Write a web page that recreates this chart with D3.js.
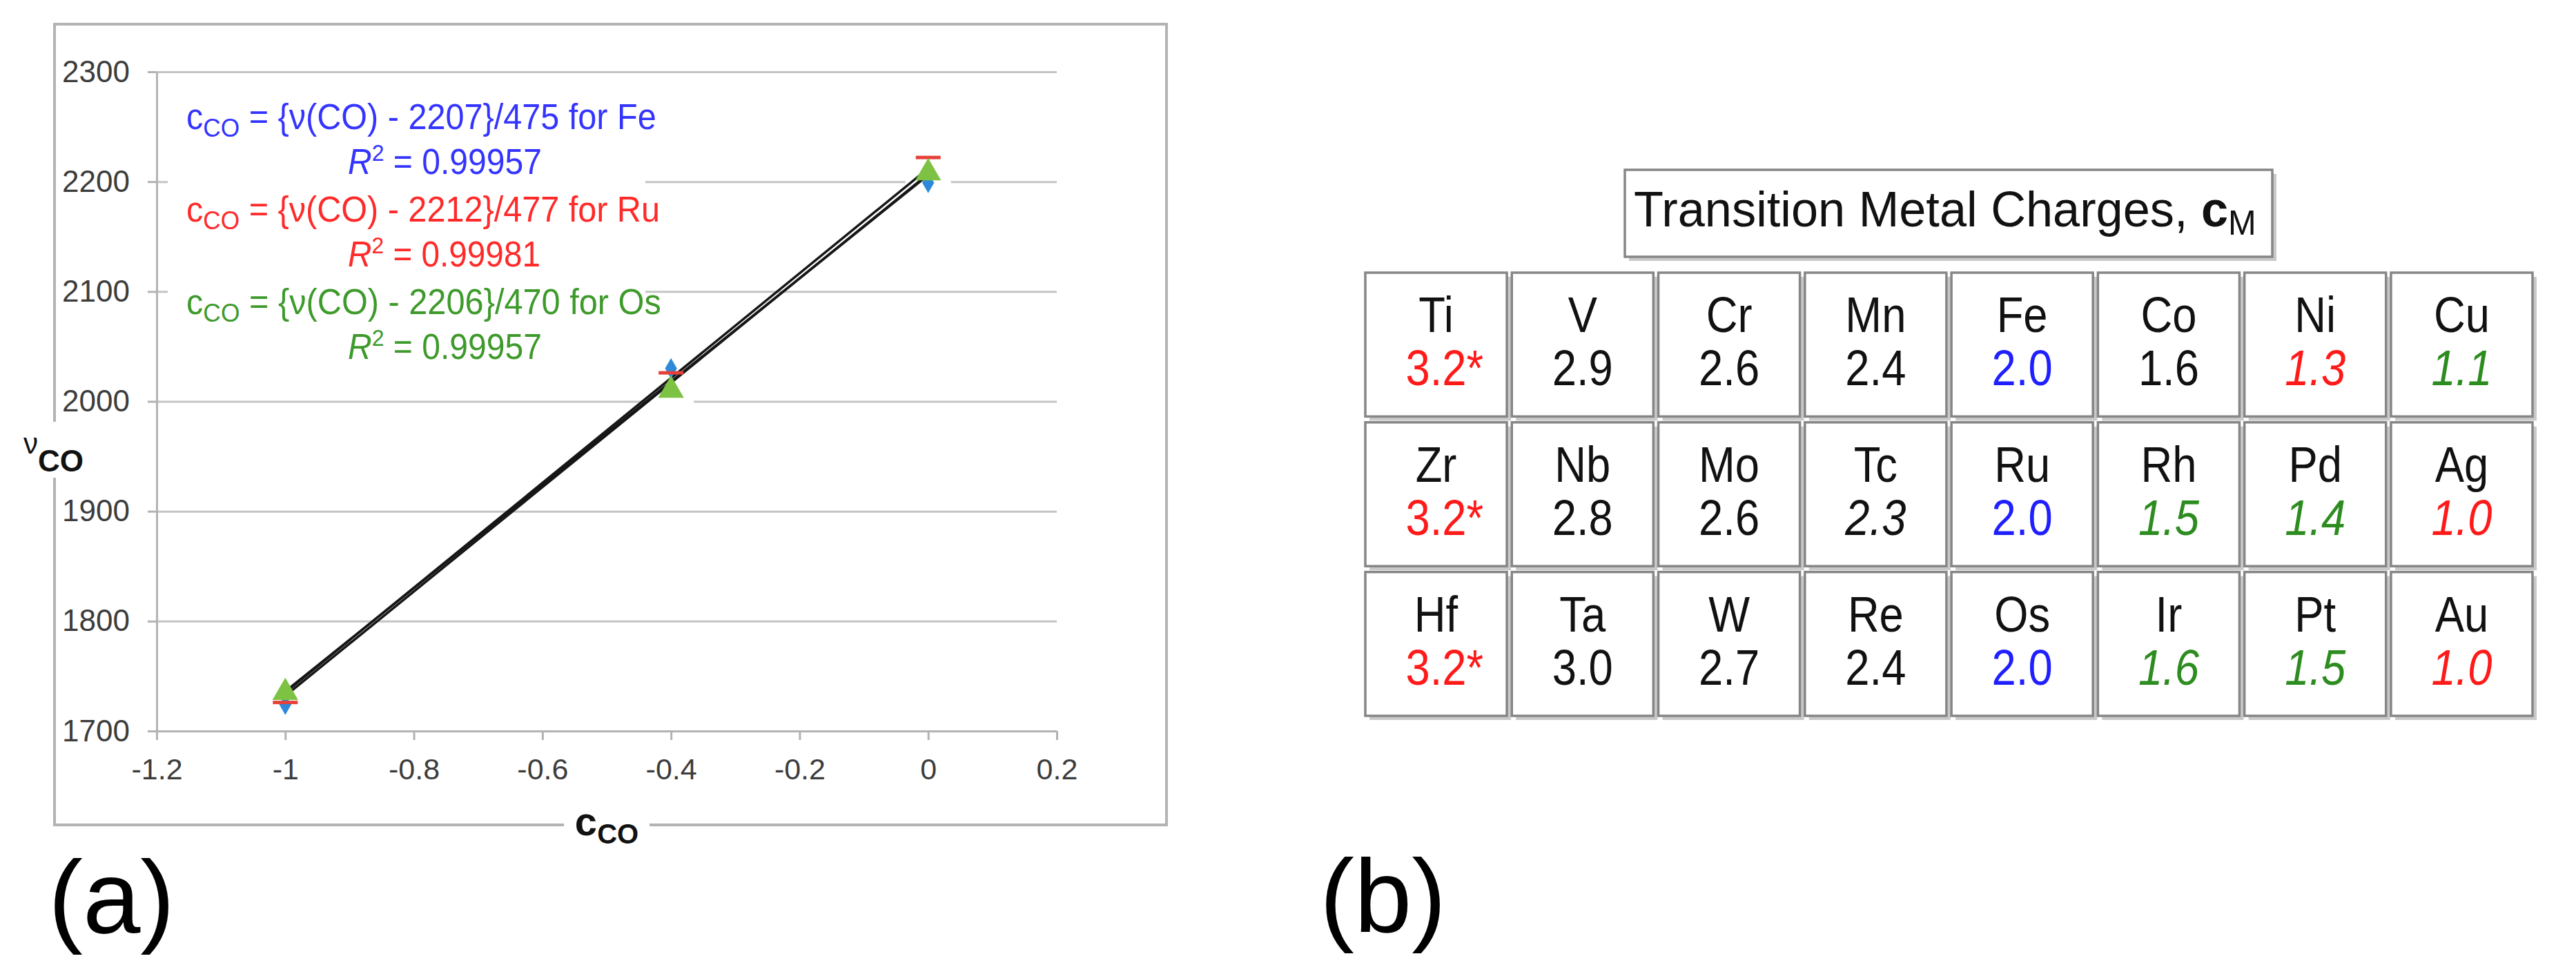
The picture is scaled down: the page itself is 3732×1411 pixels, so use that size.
<!DOCTYPE html>
<html lang="en">
<head>
  <meta charset="UTF-8">
  <title>CO stretch vs c_CO and transition metal charges</title>
  <script src="https://d3js.org/d3.v7.min.js"></script>
  <style>
    body { margin: 0; background: #fff; }
    svg { display: block; font-family: "Liberation Sans", Arial, sans-serif; }
  </style>
</head>
<body>
  <svg width="3732" height="1411"></svg>

  <script>
    // ---- panel (a) data ----
    const cCO = [-1, -0.4, 0];
    const nuFe = [1724, 2030, 2199];
    const nuRu = [1726, 2026, 2222];
    const nuOs = [1735, 2010, 2208];
    const metals = ["Fe", "Ru", "Os"];
    const fitIntercept = [2207, 2212, 2206];
    const fitSlope = [475, 477, 470];
    const fitR2 = ["0.99957", "0.99981", "0.99957"];
    const xTicks = [-1.2, -1, -0.8, -0.6, -0.4, -0.2, 0, 0.2];
    const yTicks = [1700, 1800, 1900, 2000, 2100, 2200, 2300];

    // ---- panel (b) data ----
    const elements = [
      ["Ti", "V", "Cr", "Mn", "Fe", "Co", "Ni", "Cu"],
      ["Zr", "Nb", "Mo", "Tc", "Ru", "Rh", "Pd", "Ag"],
      ["Hf", "Ta", "W", "Re", "Os", "Ir", "Pt", "Au"]
    ];
    const charges = [
      ["3.2*", "2.9", "2.6", "2.4", "2.0", "1.6", "1.3", "1.1"],
      ["3.2*", "2.8", "2.6", "2.3", "2.0", "1.5", "1.4", "1.0"],
      ["3.2*", "3.0", "2.7", "2.4", "2.0", "1.6", "1.5", "1.0"]
    ];
    // k black, r red, g green, b blue; trailing i = italic
    const chargeKind = [
      ["r", "k", "k", "k", "b", "k", "ri", "gi"],
      ["r", "k", "k", "ki", "b", "gi", "gi", "ri"],
      ["r", "k", "k", "k", "b", "gi", "gi", "ri"]
    ];

    const svg = d3.select("svg");
    svg.append("rect").attr("width", 3732).attr("height", 1411).attr("fill", "#fff");

    const x = d3.scaleLinear().domain([-1.2, 0.2]).range([227, 1531]);
    const y = d3.scaleLinear().domain([1700, 2300]).range([1059, 104]);
    const [x0, x1] = x.range();

    const eqColor = ["#3434ff", "#ff2a2a", "#3d9a2b"];
    const axisGray = "#b3b3b3";

    // outer chart frame
    const frame = {left: 79, top: 35, right: 1690, bottom: 1195};
    svg.append("rect")
        .attr("x", frame.left).attr("y", frame.top)
        .attr("width", frame.right - frame.left)
        .attr("height", frame.bottom - frame.top)
        .attr("fill", "none").attr("stroke", axisGray).attr("stroke-width", 4);

    // gridlines
    const grid = svg.append("g")
        .attr("transform", `translate(${x0},0)`)
        .call(d3.axisLeft(y).tickValues(yTicks).tickSize(-(x1 - x0)).tickFormat(""));
    grid.select(".domain").remove();
    grid.selectAll(".tick line").attr("stroke", "#c4c4c4").attr("stroke-width", 3);

    // y axis
    const yAxis = svg.append("g")
        .attr("transform", `translate(${x0},0)`)
        .call(d3.axisLeft(y).tickValues(yTicks).tickSize(13).tickSizeOuter(0)
          .tickPadding(26).tickFormat(d => String(d)));
    yAxis.attr("font-family", null).attr("font-size", 44).attr("color", "#3c3c3c");
    yAxis.select(".domain").attr("stroke", axisGray).attr("stroke-width", 3);
    yAxis.selectAll(".tick line").attr("stroke", axisGray).attr("stroke-width", 3);

    // x axis
    const xAxis = svg.append("g")
        .attr("transform", `translate(0,${y.range()[0]})`)
        .call(d3.axisBottom(x).tickValues(xTicks).tickSize(13).tickSizeOuter(0)
          .tickPadding(26).tickFormat(d => String(d)));
    xAxis.attr("font-family", null).attr("font-size", 43).attr("color", "#3c3c3c");
    xAxis.select(".domain").attr("stroke", axisGray).attr("stroke-width", 3);
    xAxis.selectAll(".tick line").attr("stroke", axisGray).attr("stroke-width", 3);

    const series = metals.map((m, i) => ({
      name: m,
      values: [nuFe, nuRu, nuOs][i],
      a: fitIntercept[i],
      b: fitSlope[i],
      r2: fitR2[i],
      color: eqColor[i]
    }));

    // white halo behind each group of markers
    cCO.forEach((c, i) => {
      const vals = series.map(s => s.values[i]);
      const top = y(d3.max(vals)) - 25, bottom = y(d3.min(vals)) + 25;
      svg.append("rect")
          .attr("x", x(c) - 33).attr("width", 66)
          .attr("y", top).attr("height", bottom - top)
          .attr("fill", "#fff");
    });

    // white box behind the equations
    svg.append("rect")
        .attr("x", 243).attr("y", 135).attr("width", 692).attr("height", 408)
        .attr("fill", "#fff");

    // linear trendlines
    series.forEach(s => {
      const ends = d3.extent(cCO);
      svg.append("line")
          .attr("x1", x(ends[0])).attr("y1", y(s.a + s.b * ends[0]))
          .attr("x2", x(ends[1])).attr("y2", y(s.a + s.b * ends[1]))
          .attr("stroke", "#161616").attr("stroke-width", 3.5);
    });

    // markers
    svg.append("g").selectAll("path")
      .data(cCO.map((c, i) => [c, nuFe[i]]))
      .join("path")
        .attr("transform", d => `translate(${x(d[0])},${y(d[1])})`)
        .attr("d", d3.symbol(d3.symbolDiamond, 260))
        .attr("fill", "#2e8ad8");
    svg.append("g").selectAll("rect")
      .data(cCO.map((c, i) => [c, nuRu[i]]))
      .join("rect")
        .attr("x", d => x(d[0]) - 18).attr("y", d => y(d[1]) - 2.5)
        .attr("width", 36).attr("height", 5)
        .attr("fill", "#e5413a");
    svg.append("g").selectAll("path")
      .data(cCO.map((c, i) => [c, nuOs[i]]))
      .join("path")
        .attr("transform", d => `translate(${x(d[0])},${y(d[1])})`)
        .attr("d", d3.symbol(d3.symbolTriangle, 600))
        .attr("fill", "#7dc242");

    // squeeze a text horizontally to a target width
    function fitWidth(g, tx, ty, width) {
      const w = g.select("text").node().getComputedTextLength();
      g.attr("transform", `translate(${tx},${ty}) scale(${width / w},1)`);
    }

    // equation labels
    const eqLeft = 270, r2Left = 504;
    const eqWidth = [681, 686, 688], r2Width = [281, 279, 281];
    series.forEach((s, i) => {
      const base = 187 + i * 134;
      const g1 = svg.append("g");
      const t1 = g1.append("text").attr("font-size", 51).attr("fill", s.color);
      t1.append("tspan").text("c");
      t1.append("tspan").attr("font-size", 37).attr("dy", 11).text("CO");
      t1.append("tspan").attr("dy", -11)
        .text(` = {ν(CO) - ${s.a}}/${s.b} for ${s.name}`);
      fitWidth(g1, eqLeft, base, eqWidth[i]);

      const g2 = svg.append("g");
      const t2 = g2.append("text").attr("font-size", 51).attr("fill", s.color);
      t2.append("tspan").attr("font-style", "italic").text("R");
      t2.append("tspan").attr("font-size", 34).attr("dy", -19).text("2");
      t2.append("tspan").attr("dy", 19).text(` = ${s.r2}`);
      fitWidth(g2, r2Left, base + 65, r2Width[i]);
    });

    // x axis title on the frame
    const xMid = (x0 + x1) / 2;
    svg.append("rect").attr("x", xMid - 62).attr("y", frame.bottom - 12)
        .attr("width", 124).attr("height", 24).attr("fill", "#fff");
    const xt = svg.append("text").attr("x", xMid).attr("y", 1210)
        .attr("text-anchor", "middle").attr("font-weight", "bold").attr("fill", "#111");
    xt.append("tspan").attr("font-size", 58).text("c");
    xt.append("tspan").attr("font-size", 40).attr("dy", 12).text("CO");

    // y axis title on the frame
    svg.append("rect").attr("x", frame.left - 12).attr("y", 611)
        .attr("width", 24).attr("height", 81).attr("fill", "#fff");
    const yt = svg.append("text").attr("x", 34).attr("y", 657).attr("fill", "#111");
    yt.append("tspan").attr("font-size", 42).text("ν");
    yt.append("tspan").attr("font-size", 44).attr("font-weight", "bold").attr("dy", 26).text("CO");

    // panel letters
    svg.append("text").attr("x", 70).attr("y", 1352).attr("font-size", 150)
        .attr("fill", "#000").text("(a)");
    svg.append("text").attr("x", 1912).attr("y", 1350).attr("font-size", 150)
        .attr("fill", "#000").text("(b)");

    // ---- panel (b) ----
    const kindColor = {k: "#111", r: "#ff1a1a", g: "#2d8c1f", b: "#1f1fff"};
    const cellStroke = "#868686", shadowFill = "#c9c9c9";

    const col = d3.scaleBand().domain(d3.range(8)).range([1978, 3669]).paddingInner(0.034);
    const row = d3.scaleBand().domain(d3.range(3)).range([395, 1037]).paddingInner(0.039);

    // title box
    const tb = {x: 2354, y: 246, w: 938, h: 126};
    svg.append("rect").attr("x", tb.x + 6).attr("y", tb.y + 6)
        .attr("width", tb.w).attr("height", tb.h).attr("fill", shadowFill);
    svg.append("rect").attr("x", tb.x).attr("y", tb.y)
        .attr("width", tb.w).attr("height", tb.h)
        .attr("fill", "#fff").attr("stroke", cellStroke).attr("stroke-width", 3.5);
    const tg = svg.append("g");
    const tt = tg.append("text").attr("font-size", 72).attr("fill", "#111");
    tt.append("tspan").text("Transition Metal Charges, ");
    tt.append("tspan").attr("font-weight", "bold").text("c");
    tt.append("tspan").attr("font-size", 50).attr("dy", 12).text("M");
    fitWidth(tg, 2367, 328, 902);

    const cells = [];
    elements.forEach((r, ri) => r.forEach((el, ci) => cells.push({
      el, value: charges[ri][ci], kind: chargeKind[ri][ci], ri, ci
    })));

    const cellG = svg.append("g").selectAll("g")
      .data(cells)
      .join("g")
        .attr("transform", d => `translate(${col(d.ci)},${row(d.ri)})`);

    cellG.append("rect")
        .attr("x", 6).attr("y", 6)
        .attr("width", col.bandwidth()).attr("height", row.bandwidth())
        .attr("fill", shadowFill);
    cellG.append("rect")
        .attr("width", col.bandwidth()).attr("height", row.bandwidth())
        .attr("fill", "#fff").attr("stroke", cellStroke).attr("stroke-width", 3.5);

    const sx = 0.88;
    cellG.append("g")
        .attr("transform", `translate(${col.bandwidth() / 2},86) scale(${sx},1)`)
      .append("text")
        .attr("text-anchor", "middle").attr("font-size", 72).attr("fill", "#111")
        .text(d => d.el);

    cellG.each(function(d) {
      const g = d3.select(this).append("g")
          .attr("transform", `translate(${col.bandwidth() / 2},163) scale(${sx},1)`);
      const num = d.value.replace("*", "");
      const color = kindColor[d.kind[0]];
      const t = g.append("text")
          .attr("text-anchor", "middle").attr("font-size", 72)
          .attr("font-style", d.kind.endsWith("i") ? "italic" : null)
          .attr("fill", color).text(num);
      if (d.value.endsWith("*")) {
        const w = t.node().getComputedTextLength();
        g.append("text").attr("x", w / 2).attr("font-size", 72)
            .attr("fill", color).text("*");
      }
    });
  </script>
</body>
</html>
